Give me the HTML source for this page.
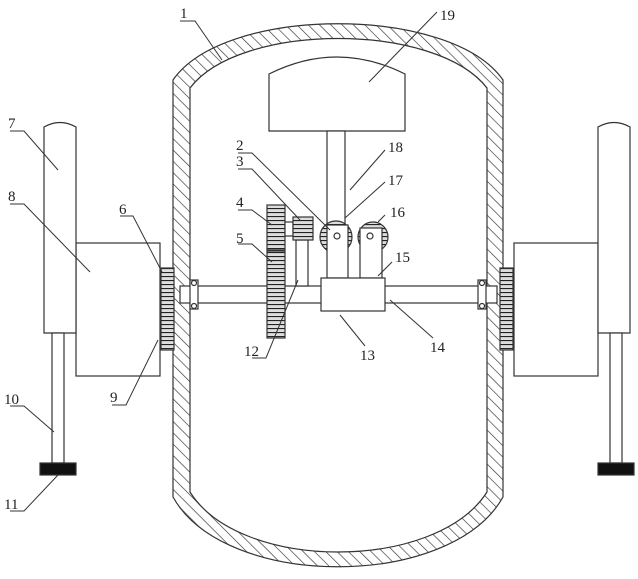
<!DOCTYPE html>
<html><head><style>body{margin:0;background:#fff}svg{display:block}text{font-family:"Liberation Serif",serif;font-size:15px;fill:#222}</style></head><body>
<svg width="638" height="579" viewBox="0 0 638 579" xmlns="http://www.w3.org/2000/svg">
<defs>
<pattern id="h" width="8" height="8" patternUnits="userSpaceOnUse" patternTransform="rotate(-45)"><rect width="8" height="8" fill="#fff"/><line x1="0" y1="0" x2="0" y2="8" stroke="#333" stroke-width="1.3"/></pattern>
<pattern id="g" width="4" height="4" patternUnits="userSpaceOnUse"><rect width="4" height="4" fill="#ddd"/><line x1="0" y1="0.5" x2="4" y2="0.5" stroke="#222" stroke-width="1.2"/></pattern>
</defs>
<g stroke="#333" stroke-width="1.2" fill="none">
<path fill="url(#h)" d="M173,80 C225,5 451,5 503,80 L503,497 C451,590 225,590 173,497 Z"/>
<path d="M190,88 C240,22 436,22 487,88 L487,492 C436,572 240,572 190,492 Z" fill="#fff"/>
<path d="M269,74 Q337,40 405,74 L405,131 L269,131 Z" fill="#fff"/>
<rect x="327" y="131" width="18" height="114" fill="#fff"/>
<rect x="180" y="286" width="317" height="17" fill="#fff"/>
<circle cx="336" cy="237" r="16" fill="url(#g)"/>
<circle cx="373" cy="237" r="15" fill="url(#g)"/>
<rect x="327" y="225" width="21" height="53" fill="#fff"/>
<circle cx="337" cy="236" r="3"/>
<rect x="360" y="228" width="22" height="50" fill="#fff"/>
<circle cx="370" cy="236" r="3"/>
<rect x="321" y="278" width="64" height="33" fill="#fff"/>
<rect x="296" y="240" width="12" height="46" fill="#fff"/>
<rect x="267" y="205" width="18" height="45" fill="url(#g)"/>
<rect x="267" y="251" width="18" height="87" fill="url(#g)"/>
<rect x="285" y="222" width="8" height="14" fill="#fff"/>
<rect x="293" y="217" width="20" height="23" fill="url(#g)"/>
<rect x="190" y="280" width="8" height="29" fill="#fff"/><circle cx="194" cy="283" r="2.5" fill="#fff"/><circle cx="194" cy="306" r="2.5" fill="#fff"/>
<rect x="478" y="280" width="8" height="29" fill="#fff"/><circle cx="482" cy="283" r="2.5" fill="#fff"/><circle cx="482" cy="306" r="2.5" fill="#fff"/>
<rect x="76" y="243" width="84" height="133" fill="#fff"/>
<path d="M44,333 L44,127 Q60,118 76,127 L76,333 Z" fill="#fff"/>
<rect x="52" y="333" width="12" height="130" fill="#fff"/>
<rect x="40" y="463" width="36" height="12" fill="#111"/>
<rect x="161" y="268" width="13" height="82" fill="url(#g)"/>
<rect x="514" y="243" width="84" height="133" fill="#fff"/>
<path d="M598,333 L598,127 Q614,118 630,127 L630,333 Z" fill="#fff"/>
<rect x="610" y="333" width="12" height="130" fill="#fff"/>
<rect x="598" y="463" width="36" height="12" fill="#111"/>
<rect x="500" y="268" width="13" height="82" fill="url(#g)"/>
<g stroke-width="1">
<path d="M180,21 L195,21 L222,60"/>
<path d="M437,12 L369,82"/>
<path d="M238,153 L252,153 L330,230"/>
<path d="M238,169 L252,169 L300,220"/>
<path d="M238,210 L252,210 L272,225"/>
<path d="M238,244 L252,244 L272,262"/>
<path d="M120,216 L133,216 L162,272"/>
<path d="M10,131 L24,131 L58,170"/>
<path d="M10,204 L24,204 L90,272"/>
<path d="M10,406 L24,406 L54,432"/>
<path d="M10,511 L24,511 L58,475"/>
<path d="M112,405 L126,405 L158,340"/>
<path d="M385,150 L350,190"/>
<path d="M385,182 L345,218"/>
<path d="M385,215 L378,222"/>
<path d="M392,262 L378,276"/>
<path d="M252,358 L266,358 L298,280"/>
<path d="M340,315 L365,346"/>
<path d="M390,300 L433,338"/>
</g>
</g>
<text x="180" y="18">1</text><text x="440" y="20">19</text>
<text x="236" y="150">2</text><text x="236" y="166">3</text><text x="236" y="207">4</text><text x="236" y="243">5</text>
<text x="119" y="214">6</text><text x="8" y="128">7</text><text x="8" y="201">8</text><text x="110" y="402">9</text>
<text x="4" y="404">10</text><text x="4" y="509">11</text>
<text x="388" y="152">18</text><text x="388" y="185">17</text><text x="390" y="217">16</text><text x="395" y="262">15</text>
<text x="244" y="356">12</text><text x="360" y="360">13</text><text x="430" y="352">14</text>
</svg>
</body></html>
